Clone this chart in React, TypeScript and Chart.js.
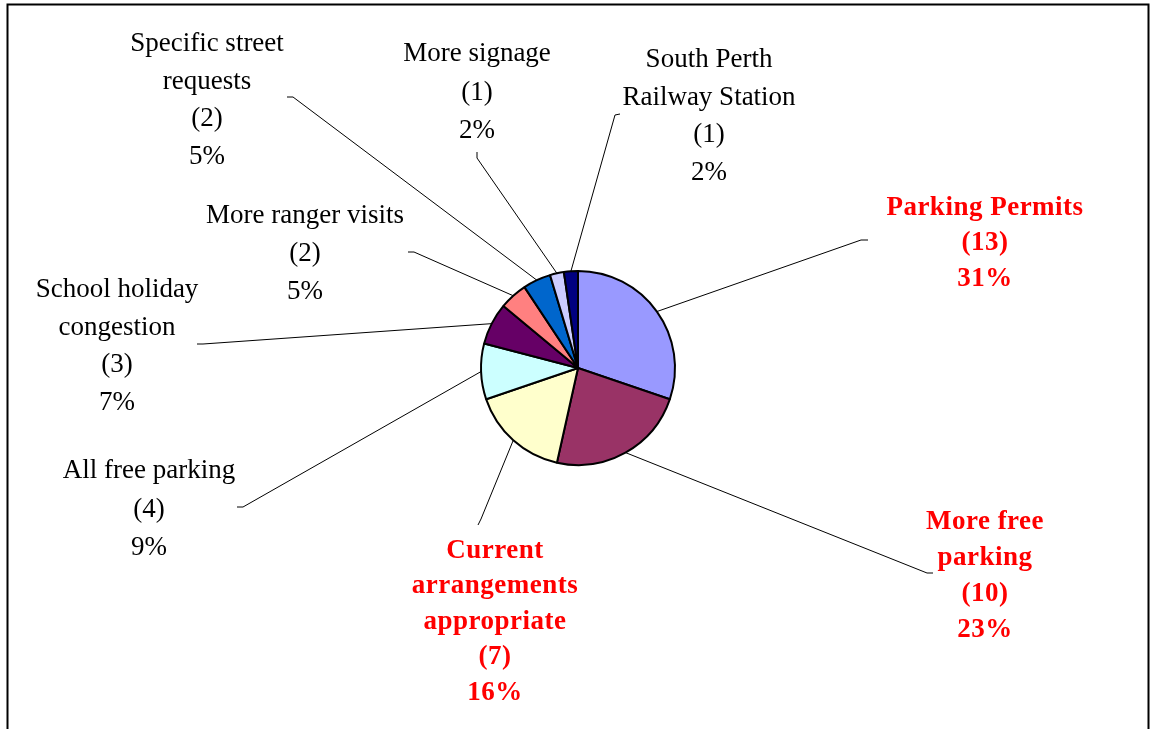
import React, { useEffect, useRef } from "react";
import { Chart, registerables } from "chart.js";

Chart.register(...registerables);

const categories = [
  "Parking Permits",
  "More free parking",
  "Current arrangements appropriate",
  "All free parking",
  "School holiday congestion",
  "More ranger visits",
  "Specific street requests",
  "More signage",
  "South Perth Railway Station",
];
const counts = [13, 10, 7, 4, 3, 2, 2, 1, 1];
const percentLabels = ["31%", "23%", "16%", "9%", "7%", "5%", "5%", "2%", "2%"];
const highlighted = [true, true, true, false, false, false, false, false, false];
const sliceColors = [
  "#9999FF",
  "#993366",
  "#FFFFCC",
  "#CCFFFF",
  "#660066",
  "#FF8080",
  "#0066CC",
  "#CCCCFF",
  "#000080",
];

// label text lines (category name wrapped as in the reference)
const labelNameLines = [
  ["Parking Permits"],
  ["More free", "parking"],
  ["Current", "arrangements", "appropriate"],
  ["All free parking"],
  ["School holiday", "congestion"],
  ["More ranger visits"],
  ["Specific street", "requests"],
  ["More signage"],
  ["South Perth", "Railway Station"],
];

// layout: label centre x, first line y, line gap, leader stub outer/inner points
const labelLayout = [
  { cx: 985, y0: 208, gap: 35.5, ox: 868, oy: 240, ix: 861, iy: 240 },
  { cx: 985, y0: 522, gap: 36, ox: 933, oy: 573, ix: 927, iy: 573 },
  { cx: 495, y0: 551, gap: 35.5, ox: 478, oy: 525, ix: 481, iy: 519 },
  { cx: 149, y0: 471, gap: 38.5, ox: 237, oy: 507, ix: 243, iy: 507 },
  { cx: 117, y0: 290, gap: 37.7, ox: 197, oy: 344, ix: 203, iy: 344 },
  { cx: 305, y0: 216, gap: 38, ox: 408, oy: 252, ix: 414, iy: 252 },
  { cx: 207, y0: 44, gap: 37.7, ox: 287, oy: 97, ix: 293, iy: 97 },
  { cx: 477, y0: 54, gap: 38.5, ox: 477, oy: 152, ix: 477, iy: 158 },
  { cx: 709, y0: 60, gap: 37.7, ox: 620, oy: 114, ix: 615, iy: 115 },
];

const labelPlugin = {
  id: "leaderLabels",
  beforeDatasetsDraw(chart: any) {
    const ctx = chart.ctx;
    ctx.save();
    // outer frame
    ctx.strokeStyle = "#000";
    ctx.lineWidth = 2;
    ctx.beginPath();
    ctx.moveTo(7.5, 740);
    ctx.lineTo(7.5, 4.5);
    ctx.lineTo(1148.5, 4.5);
    ctx.lineTo(1148.5, 740);
    ctx.stroke();
    // leader lines
    const meta = chart.getDatasetMeta(0);
    ctx.lineWidth = 1;
    meta.data.forEach((arc: any, i: number) => {
      const mid = (arc.startAngle + arc.endAngle) / 2;
      const r = arc.outerRadius;
      const px = arc.x + r * Math.cos(mid);
      const py = arc.y + r * Math.sin(mid);
      const L = labelLayout[i];
      ctx.beginPath();
      ctx.moveTo(px, py);
      ctx.lineTo(L.ix, L.iy);
      ctx.lineTo(L.ox, L.oy);
      ctx.stroke();
    });
    ctx.restore();
  },
  afterDatasetsDraw(chart: any) {
    const ctx = chart.ctx;
    ctx.save();
    ctx.textAlign = "center";
    ctx.textBaseline = "middle";
    categories.forEach((_, i) => {
      const L = labelLayout[i];
      const lines = [...labelNameLines[i], `(${counts[i]})`, percentLabels[i]];
      if (highlighted[i]) {
        ctx.fillStyle = "#FF0000";
        ctx.font = "bold 27px 'Liberation Serif'";
        ctx.letterSpacing = "0.5px";
      } else {
        ctx.fillStyle = "#000";
        ctx.font = "27px 'Liberation Serif'";
        ctx.letterSpacing = "0px";
      }
      lines.forEach((t, k) => {
        ctx.fillText(t, L.cx, L.y0 + k * L.gap);
      });
    });
    ctx.restore();
  },
};

export default function App() {
  const ref = useRef<HTMLCanvasElement>(null);
  useEffect(() => {
    if (!ref.current) return;
    const chart = new Chart(ref.current, {
      type: "pie",
      data: {
        labels: categories,
        datasets: [
          {
            data: counts,
            backgroundColor: sliceColors,
            borderColor: "#000",
            borderWidth: 2,
          },
        ],
      },
      options: {
        animation: false,
        responsive: false,
        radius: 97,
        layout: { padding: { left: 481, right: 475, top: 271, bottom: 264 } },
        plugins: {
          legend: { display: false },
          tooltip: { enabled: false },
        },
      },
      plugins: [labelPlugin],
    });
    return () => chart.destroy();
  }, []);
  return (
    <div style={{ position: "fixed", left: 0, top: 0, width: 1150, height: 729, background: "#fff" }}>
      <canvas ref={ref} width={1150} height={729} style={{ display: "block" }} />
    </div>
  );
}
